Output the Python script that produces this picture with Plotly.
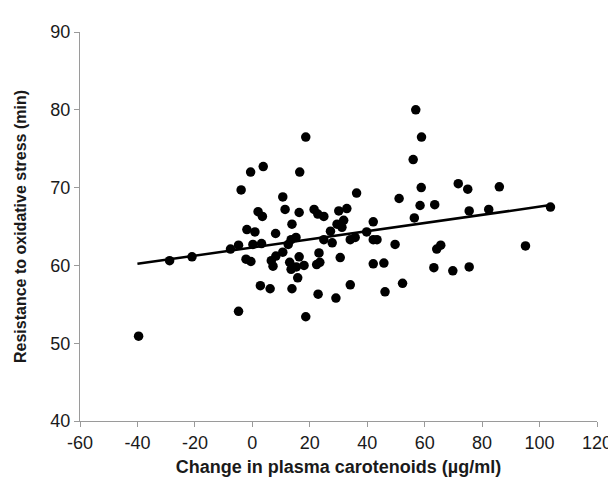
import plotly.graph_objects as go

# Change in plasma carotenoids (µg/ml)
carotenoid_change = [
    -39.6, -28.8, -21.0, -7.6, -4.8, -4.8, -3.9, -2.2, -0.5, -1.9,
    0.9, -0.6, 0.2, 2.0, 3.5, 3.8, 3.2, 2.8, 6.2, 6.6,
    7.2, 8.2, 8.1, 10.6, 11.4, 10.6, 12.5, 13.5, 13.8, 13.0,
    13.5, 15.3, 15.2, 13.8, 15.8, 16.3, 16.3, 16.5, 18.0, 18.6,
    18.6, 21.5, 22.8, 24.9, 23.2, 22.4, 23.5, 22.9, 24.9, 27.8,
    27.2, 29.1, 29.5, 30.1, 31.2, 31.8, 32.9, 30.6, 34.1, 35.8,
    34.1, 36.3, 39.8, 42.1, 42.1, 43.4, 42.1, 45.8, 46.2, 49.7,
    51.1, 52.3, 56.0, 56.4, 56.9, 58.9, 58.4, 58.8, 63.5, 63.2,
    64.2, 65.6, 69.8, 71.7, 75.0, 75.5, 75.5, 82.3, 86.0, 95.1,
    103.8,
]
# Resistance to oxidative stress (min)
resistance = [
    50.9, 60.6, 61.1, 62.1, 62.6, 54.1, 69.7, 60.8, 60.5, 64.6,
    64.3, 72.0, 62.7, 66.9, 66.3, 72.7, 62.8, 57.4, 57.0, 60.6,
    59.9, 61.2, 64.1, 68.8, 67.2, 61.7, 62.7, 63.3, 65.3, 60.4,
    59.5, 59.8, 63.6, 57.0, 58.4, 61.1, 66.8, 72.0, 60.0, 76.5,
    53.4, 67.2, 66.6, 66.3, 61.6, 60.1, 60.4, 56.3, 63.3, 62.9,
    64.4, 55.8, 65.3, 67.0, 64.9, 65.8, 67.3, 61.0, 63.3, 63.6,
    57.5, 69.3, 64.3, 65.6, 63.3, 63.3, 60.2, 60.3, 56.6, 62.7,
    68.6, 57.7, 73.6, 66.1, 80.0, 76.5, 67.7, 70.0, 67.8, 59.7,
    62.1, 62.6, 59.3, 70.5, 69.8, 67.0, 59.8, 67.2, 70.1, 62.5,
    67.5,
]

# Linear trend line
trend_x = [-40.0, 103.8]
trend_y = [60.2, 67.75]

x_ticks = [-60, -40, -20, 0, 20, 40, 60, 80, 100, 120]
y_ticks = [40, 50, 60, 70, 80, 90]

fig = go.Figure()
fig.add_trace(go.Scatter(
    x=carotenoid_change, y=resistance, mode="markers",
    marker=dict(color="black", size=9.5, line=dict(width=0)),
    showlegend=False, hoverinfo="skip",
))
fig.add_trace(go.Scatter(
    x=trend_x, y=trend_y, mode="lines",
    line=dict(color="black", width=2.5),
    showlegend=False, hoverinfo="skip",
))

FONT = "Liberation Sans, Arial"
axis_common = dict(
    showgrid=False, zeroline=False, showline=True, linecolor="#9a9a9a",
    linewidth=1, ticks="outside", ticklen=5, tickcolor="#9a9a9a",
    tickfont=dict(family=FONT, size=18, color="#1a1a1a"),
)
fig.update_layout(
    width=616, height=482,
    margin=dict(l=72, r=18, t=24, b=69),
    paper_bgcolor="white", plot_bgcolor="white",
    xaxis=dict(
        range=[-60, 120], tickvals=x_ticks, ticktext=[str(v) for v in x_ticks],
        title=dict(text="<b>Change in plasma carotenoids (µg/ml)</b>",
                   font=dict(family=FONT, size=18, color="#1a1a1a"),
                   standoff=8),
        **axis_common,
    ),
    yaxis=dict(
        range=[40, 90], tickvals=y_ticks, ticktext=[str(v) for v in y_ticks],
        title=dict(text="<b>Resistance to oxidative stress (min)</b>",
                   font=dict(family=FONT, size=16, color="#1a1a1a"),
                   standoff=19),
        **axis_common,
    ),
)
fig.write_html("out.html")
